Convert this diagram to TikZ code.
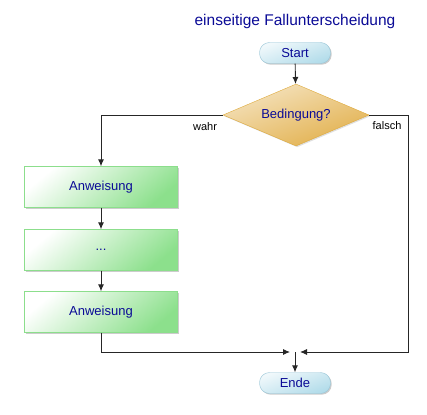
\documentclass[tikz,border=0pt]{standalone}
\usepackage{fontspec}
\setmainfont{Liberation Sans}
\usetikzlibrary{shapes.geometric, shadows, arrows.meta}
\definecolor{txtblue}{RGB}{10,10,150}
\definecolor{termfill}{RGB}{178,220,234}
\definecolor{termline}{RGB}{150,196,214}
\definecolor{condfill}{RGB}{226,176,76}
\definecolor{condline}{RGB}{222,170,60}
\definecolor{actfill}{RGB}{140,224,140}
\definecolor{actline}{RGB}{140,222,140}
\tikzset{
	>={Latex[length=7pt, width=6pt]}, % filled arrow heads
	every node/.style={text=txtblue, font=\fontsize{13}{15}\selectfont},
	flow/.style={->, line width=0.9pt, draw=black!85},
	terminal/.style={draw=termline, rounded corners=10pt, minimum width=71pt, minimum height=21pt,
		shading=axis, top color=white!80!termfill, bottom color=termfill, shading angle=20,
		drop shadow={shadow xshift=1.2pt, shadow yshift=-1.2pt, fill=black!40}},
	decision/.style={diamond, draw=condline, aspect=2.35, minimum width=146pt, minimum height=62pt, inner sep=0pt,
		shading=axis, top color=white!65!condfill, bottom color=condfill, shading angle=20,
		drop shadow={shadow xshift=1.2pt, shadow yshift=-1.2pt, fill=black!25}},
	action/.style={draw=actline, minimum width=153pt, minimum height=41pt,
		shading=axis, top color=white, bottom color=actfill, shading angle=40,
		drop shadow={shadow xshift=1.2pt, shadow yshift=-1.2pt, fill=black!40}},
	branch/.style={text=black, font=\fontsize{11}{13}\selectfont},
}
\begin{document}
\begin{tikzpicture}[x=1pt, y=-1pt]
	\useasboundingbox (0,0) rectangle (427,414);
			\node[font=\fontsize{15.5}{18}\selectfont] at (295,21) (title) {einseitige Fallunterscheidung};
			\node[terminal] at (295,53) (start) {Start};
			\node[decision] at (296,115) (cond) {Bedingung?};
			\node[action] at (101,187) (act1) {Anweisung};
			\node[action] at (101,250) (act2) {...};
			\node[action] at (101,312) (act3) {Anweisung};
			\node[terminal] at (295,383) (ende) {Ende};
			\coordinate (join) at (295,352);
			\node[branch] at (205,127) (yes) {wahr};
			\node[branch] at (387,126) (no) {falsch};
	\draw[flow] (start) -- (cond);
	\draw[flow] (cond.west) -| (act1.north);
	\draw[flow] (act1) -- (act2);
	\draw[flow] (act2) -- (act3);
	\draw[flow, shorten >=5pt] (act3.south) |- (join);
	\draw[flow, shorten >=5pt] (cond.east) -| (408,352) -- (join);
	\draw[flow] (join) -- (ende);
\end{tikzpicture}
\end{document}
